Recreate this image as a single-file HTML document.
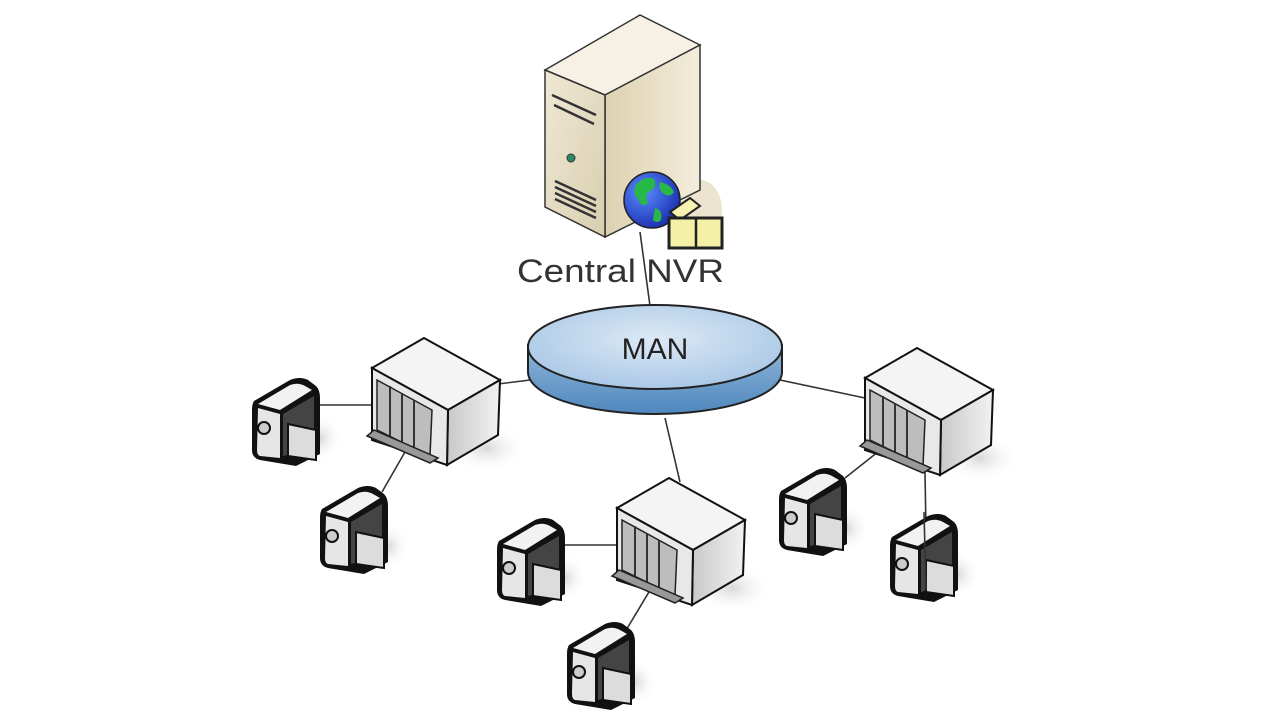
<!DOCTYPE html>
<html><head><meta charset="utf-8"><style>
html,body{margin:0;padding:0;background:#fff;}
svg{display:block;}
</style></head><body>
<svg width="1265" height="720" viewBox="0 0 1265 720" xmlns="http://www.w3.org/2000/svg">
<defs>
<linearGradient id="srvF" x1="0" y1="0" x2="1" y2="1"><stop offset="0" stop-color="#efe8d4"/><stop offset="1" stop-color="#d8ceb0"/></linearGradient>
<linearGradient id="srvR" x1="0" y1="0" x2="1" y2="0"><stop offset="0" stop-color="#ddd1b0"/><stop offset="1" stop-color="#f3eddc"/></linearGradient>
<linearGradient id="manS" x1="0" y1="0" x2="0" y2="1"><stop offset="0" stop-color="#8fb6da"/><stop offset="1" stop-color="#4f87bd"/></linearGradient>
<radialGradient id="manT" cx="0.5" cy="0.4" r="0.6"><stop offset="0" stop-color="#dce9f5"/><stop offset="1" stop-color="#aac8e6"/></radialGradient>
<linearGradient id="boxR" x1="0" y1="0" x2="1" y2="0"><stop offset="0" stop-color="#c8c8c8"/><stop offset="1" stop-color="#f2f2f2"/></linearGradient>
<radialGradient id="globe" cx="0.35" cy="0.35" r="0.7"><stop offset="0" stop-color="#5a8cff"/><stop offset="1" stop-color="#1a2fb0"/></radialGradient>
<radialGradient id="shd" cx="0.5" cy="0.5" r="0.5"><stop offset="0" stop-color="#d8d8d8"/><stop offset="1" stop-color="#fff" stop-opacity="0"/></radialGradient>

<g id="sw">
  <ellipse cx="115" cy="80" rx="40" ry="25" fill="url(#shd)"/>
  <polygon points="0,0 52,-30 128,12 76,42" fill="#f4f4f4" stroke="#111" stroke-width="2"/>
  <polygon points="76,42 128,12 126,67 75,97" fill="url(#boxR)" stroke="#111" stroke-width="2"/>
  <polygon points="0,0 76,42 75,97 0,72" fill="#e8e8e8" stroke="#111" stroke-width="2"/>
  <polygon points="5,12 60,42 58,88 5,62" fill="#bdbdbd" stroke="#222" stroke-width="1.5"/>
  <line x1="18" y1="18" x2="18" y2="70" stroke="#333" stroke-width="2"/>
  <line x1="30" y1="25" x2="30" y2="77" stroke="#333" stroke-width="2"/>
  <line x1="42" y1="32" x2="42" y2="83" stroke="#333" stroke-width="2"/>
  <polygon points="-5,68 58,95 66,90 2,62" fill="#999" stroke="#222" stroke-width="1.5"/>
</g>

<g id="cam">
  <ellipse cx="70" cy="62" rx="22" ry="24" fill="url(#shd)"/>
  <path d="M4,25 L40,4 Q50,0 58,4 L66,10 Q70,14 70,22 L70,78 L46,90 L10,84 Q2,82 2,74 L2,34 Q2,28 4,25 Z" fill="#111"/>
  <path d="M8,28 L40,9 Q48,6 55,10 L62,14 L30,34 Z" fill="#f2f2f2"/>
  <path d="M8,32 L30,38 L30,82 L10,80 Q7,79 7,74 Z" fill="#e6e6e6"/>
  <circle cx="14" cy="52" r="6" fill="#ccc" stroke="#111" stroke-width="2"/>
  <path d="M33,38 L64,20 L64,72 L33,80 Z" fill="#444"/>
  <path d="M38,48 L66,54 L66,84 L38,80 Z" fill="#dcdcdc" stroke="#111" stroke-width="2"/>
</g>
</defs>

<g stroke="#333" stroke-width="1.6" fill="none">
  <line x1="640" y1="232" x2="650" y2="306"/>
  <line x1="530" y1="380" x2="498" y2="384"/>
  <line x1="665" y1="418" x2="680" y2="482"/>
  <line x1="780" y1="380" x2="865" y2="398"/>
  <line x1="318" y1="405" x2="432" y2="405"/>
  <line x1="432" y1="405" x2="382" y2="492"/>
  <line x1="565" y1="545" x2="677" y2="545"/>
  <line x1="677" y1="545" x2="625" y2="632"/>
  <line x1="912" y1="425" x2="845" y2="478"/>
  <line x1="924" y1="415" x2="926" y2="530"/>
</g>

<ellipse cx="700" cy="210" rx="22" ry="30" fill="#ece4cf"/>
<polygon points="545,70 640,15 700,45 605,95" fill="#f6f1e4" stroke="#333" stroke-width="1.5"/>
<polygon points="605,95 700,45 700,190 605,237" fill="url(#srvR)" stroke="#333" stroke-width="1.5"/>
<polygon points="545,70 605,95 605,237 545,207" fill="url(#srvF)" stroke="#333" stroke-width="1.5"/>
<g stroke="#333" stroke-width="2.5" fill="none">
  <path d="M552,95 L596,115"/><path d="M554,105 L594,124"/>
  <path d="M555,187 L596,206"/><path d="M555,193 L596,212"/><path d="M555,199 L596,218"/><path d="M555,181 L596,200"/>
</g>
<circle cx="571" cy="158" r="4" fill="#2a8a6a" stroke="#333"/>
<circle cx="652" cy="200" r="28" fill="url(#globe)" stroke="#222" stroke-width="1.5"/>
<path d="M636,185 q8,-10 18,-6 q4,8 -4,12 q-6,4 -2,12 q-6,6 -10,-4 q-6,-6 -2,-14 Z" fill="#28b848"/>
<path d="M660,182 q10,2 14,10 q-4,6 -10,2 q-6,-4 -4,-12 Z M655,208 q8,2 6,12 q-4,4 -8,0 Z" fill="#28b848"/>
<polygon points="670,212 690,198 700,206 680,220" fill="#f6f2b0" stroke="#222" stroke-width="2"/>
<rect x="669" y="218" width="53" height="30" fill="#f4f0a8" stroke="#222" stroke-width="3"/>
<line x1="696" y1="218" x2="696" y2="248" stroke="#222" stroke-width="2.5"/>
<text x="517" y="282" textLength="207" lengthAdjust="spacingAndGlyphs" font-family="Liberation Sans, sans-serif" font-size="32" fill="#333">Central NVR</text>

<path d="M528,345 L528,372 A127,42 0 0 0 782,372 L782,345 Z" fill="url(#manS)" stroke="#222" stroke-width="2"/>
<ellipse cx="655" cy="347" rx="127" ry="42" fill="url(#manT)" stroke="#222" stroke-width="2"/>
<text x="655" y="359" text-anchor="middle" font-family="Liberation Sans, sans-serif" font-size="30" fill="#222">MAN</text>

<use href="#sw" x="372" y="368"/>
<use href="#sw" x="617" y="508"/>
<use href="#sw" x="865" y="378"/>

<use href="#cam" x="250" y="376"/>
<use href="#cam" x="318" y="484"/>
<use href="#cam" x="495" y="516"/>
<use href="#cam" x="565" y="620"/>
<use href="#cam" x="777" y="466"/>
<use href="#cam" x="888" y="512"/>

<g stroke="#333" stroke-width="1.6">
  <line x1="924" y1="512" x2="926" y2="590"/>
</g>
</svg>
</body></html>
